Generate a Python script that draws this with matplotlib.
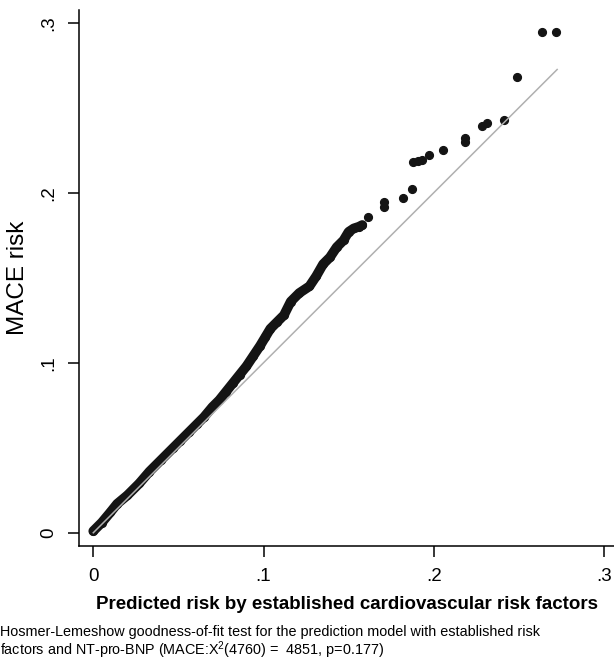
import matplotlib
matplotlib.use('Agg')
import matplotlib.pyplot as plt

plt.rcParams['font.family'] = ['Liberation Sans', 'DejaVu Sans']
plt.rcParams['mathtext.default'] = 'regular'

# observed vs predicted MACE risk, read off the picture
# dense part of the curve (points overlap into a thick band)
dense_pred = [0.000, 0.005, 0.010, 0.014, 0.020, 0.027, 0.033, 0.040, 0.047, 0.051,
              0.056, 0.061, 0.065, 0.070, 0.074, 0.078, 0.082, 0.086, 0.090, 0.094,
              0.098, 0.101, 0.104, 0.108, 0.112, 0.116, 0.121, 0.127, 0.131, 0.135,
              0.139, 0.143, 0.147, 0.150, 0.153, 0.156, 0.158]
dense_obs = [0.001, 0.006, 0.012, 0.017, 0.022, 0.029, 0.036, 0.043, 0.050, 0.054,
             0.059, 0.064, 0.068, 0.074, 0.078, 0.083, 0.088, 0.093, 0.098, 0.104,
             0.110, 0.115, 0.120, 0.124, 0.128, 0.136, 0.141, 0.145, 0.151, 0.158,
             0.162, 0.168, 0.172, 0.177, 0.179, 0.180, 0.181]

# sparse upper tail
tail_pred = [0.1616, 0.1710, 0.1710, 0.1821, 0.1871, 0.1880, 0.1905, 0.1930, 0.1974,
             0.2056, 0.2184, 0.2184, 0.2282, 0.2311, 0.2413, 0.2488, 0.2635, 0.2719]
tail_obs = [0.1859, 0.1947, 0.1914, 0.1970, 0.2020, 0.2178, 0.2185, 0.2195, 0.2220,
            0.2251, 0.2320, 0.2297, 0.2394, 0.2408, 0.2427, 0.2682, 0.2943, 0.2943]

ref_line = [0.0, 0.2725]   # line of identity up to the largest prediction

ticks = [0, 0.1, 0.2, 0.3]
tick_labels = ['0', '.1', '.2', '.3']

fig = plt.figure(figsize=(6.14, 6.61), dpi=100)
ax = fig.add_axes([79 / 614, 1 - 546 / 661, 1 - 79 / 614, (546 - 10) / 661])

dot = '#141414'
ax.plot(dense_pred, dense_obs, color=dot, lw=7, solid_capstyle='round',
        solid_joinstyle='round', zorder=2)
ax.plot(dense_pred, dense_obs, 'o', color=dot, ms=5.6, zorder=2)
ax.plot(tail_pred, tail_obs, 'o', color=dot, ms=5.6, zorder=2)
ax.plot(ref_line, ref_line, color='#b0b0b0', lw=1.1, zorder=3)

ax.set_xlim(-0.0084, 0.3059)
ax.set_ylim(-0.0078, 0.3075)
ax.set_xticks(ticks)
ax.set_xticklabels(tick_labels)
ax.set_yticks(ticks)
ax.set_yticklabels(tick_labels, rotation=90, va='center')
ax.tick_params(direction='out', length=8, width=1.1, labelsize=13.5, pad=8)

for s in ['top', 'right']:
    ax.spines[s].set_visible(False)
for s in ['left', 'bottom']:
    ax.spines[s].set_linewidth(1.1)

ax.set_xlabel('Predicted risk by established cardiovascular risk factors',
              fontsize=13.5, fontweight='bold', labelpad=8)
ax.set_ylabel('MACE risk', fontsize=17.5, labelpad=8)

fig.text(0.0, 1 - 636 / 661,
         'Hosmer-Lemeshow goodness-of-fit test for the prediction model with established risk',
         fontsize=10.4, va='baseline')
fig.text(0.0, 1 - 655 / 661,
         'factors and NT-pro-BNP (MACE:X$^2$(4760) =  4851, p=0.177)',
         fontsize=10.4, va='baseline')

fig.savefig('out.png', dpi=100)
